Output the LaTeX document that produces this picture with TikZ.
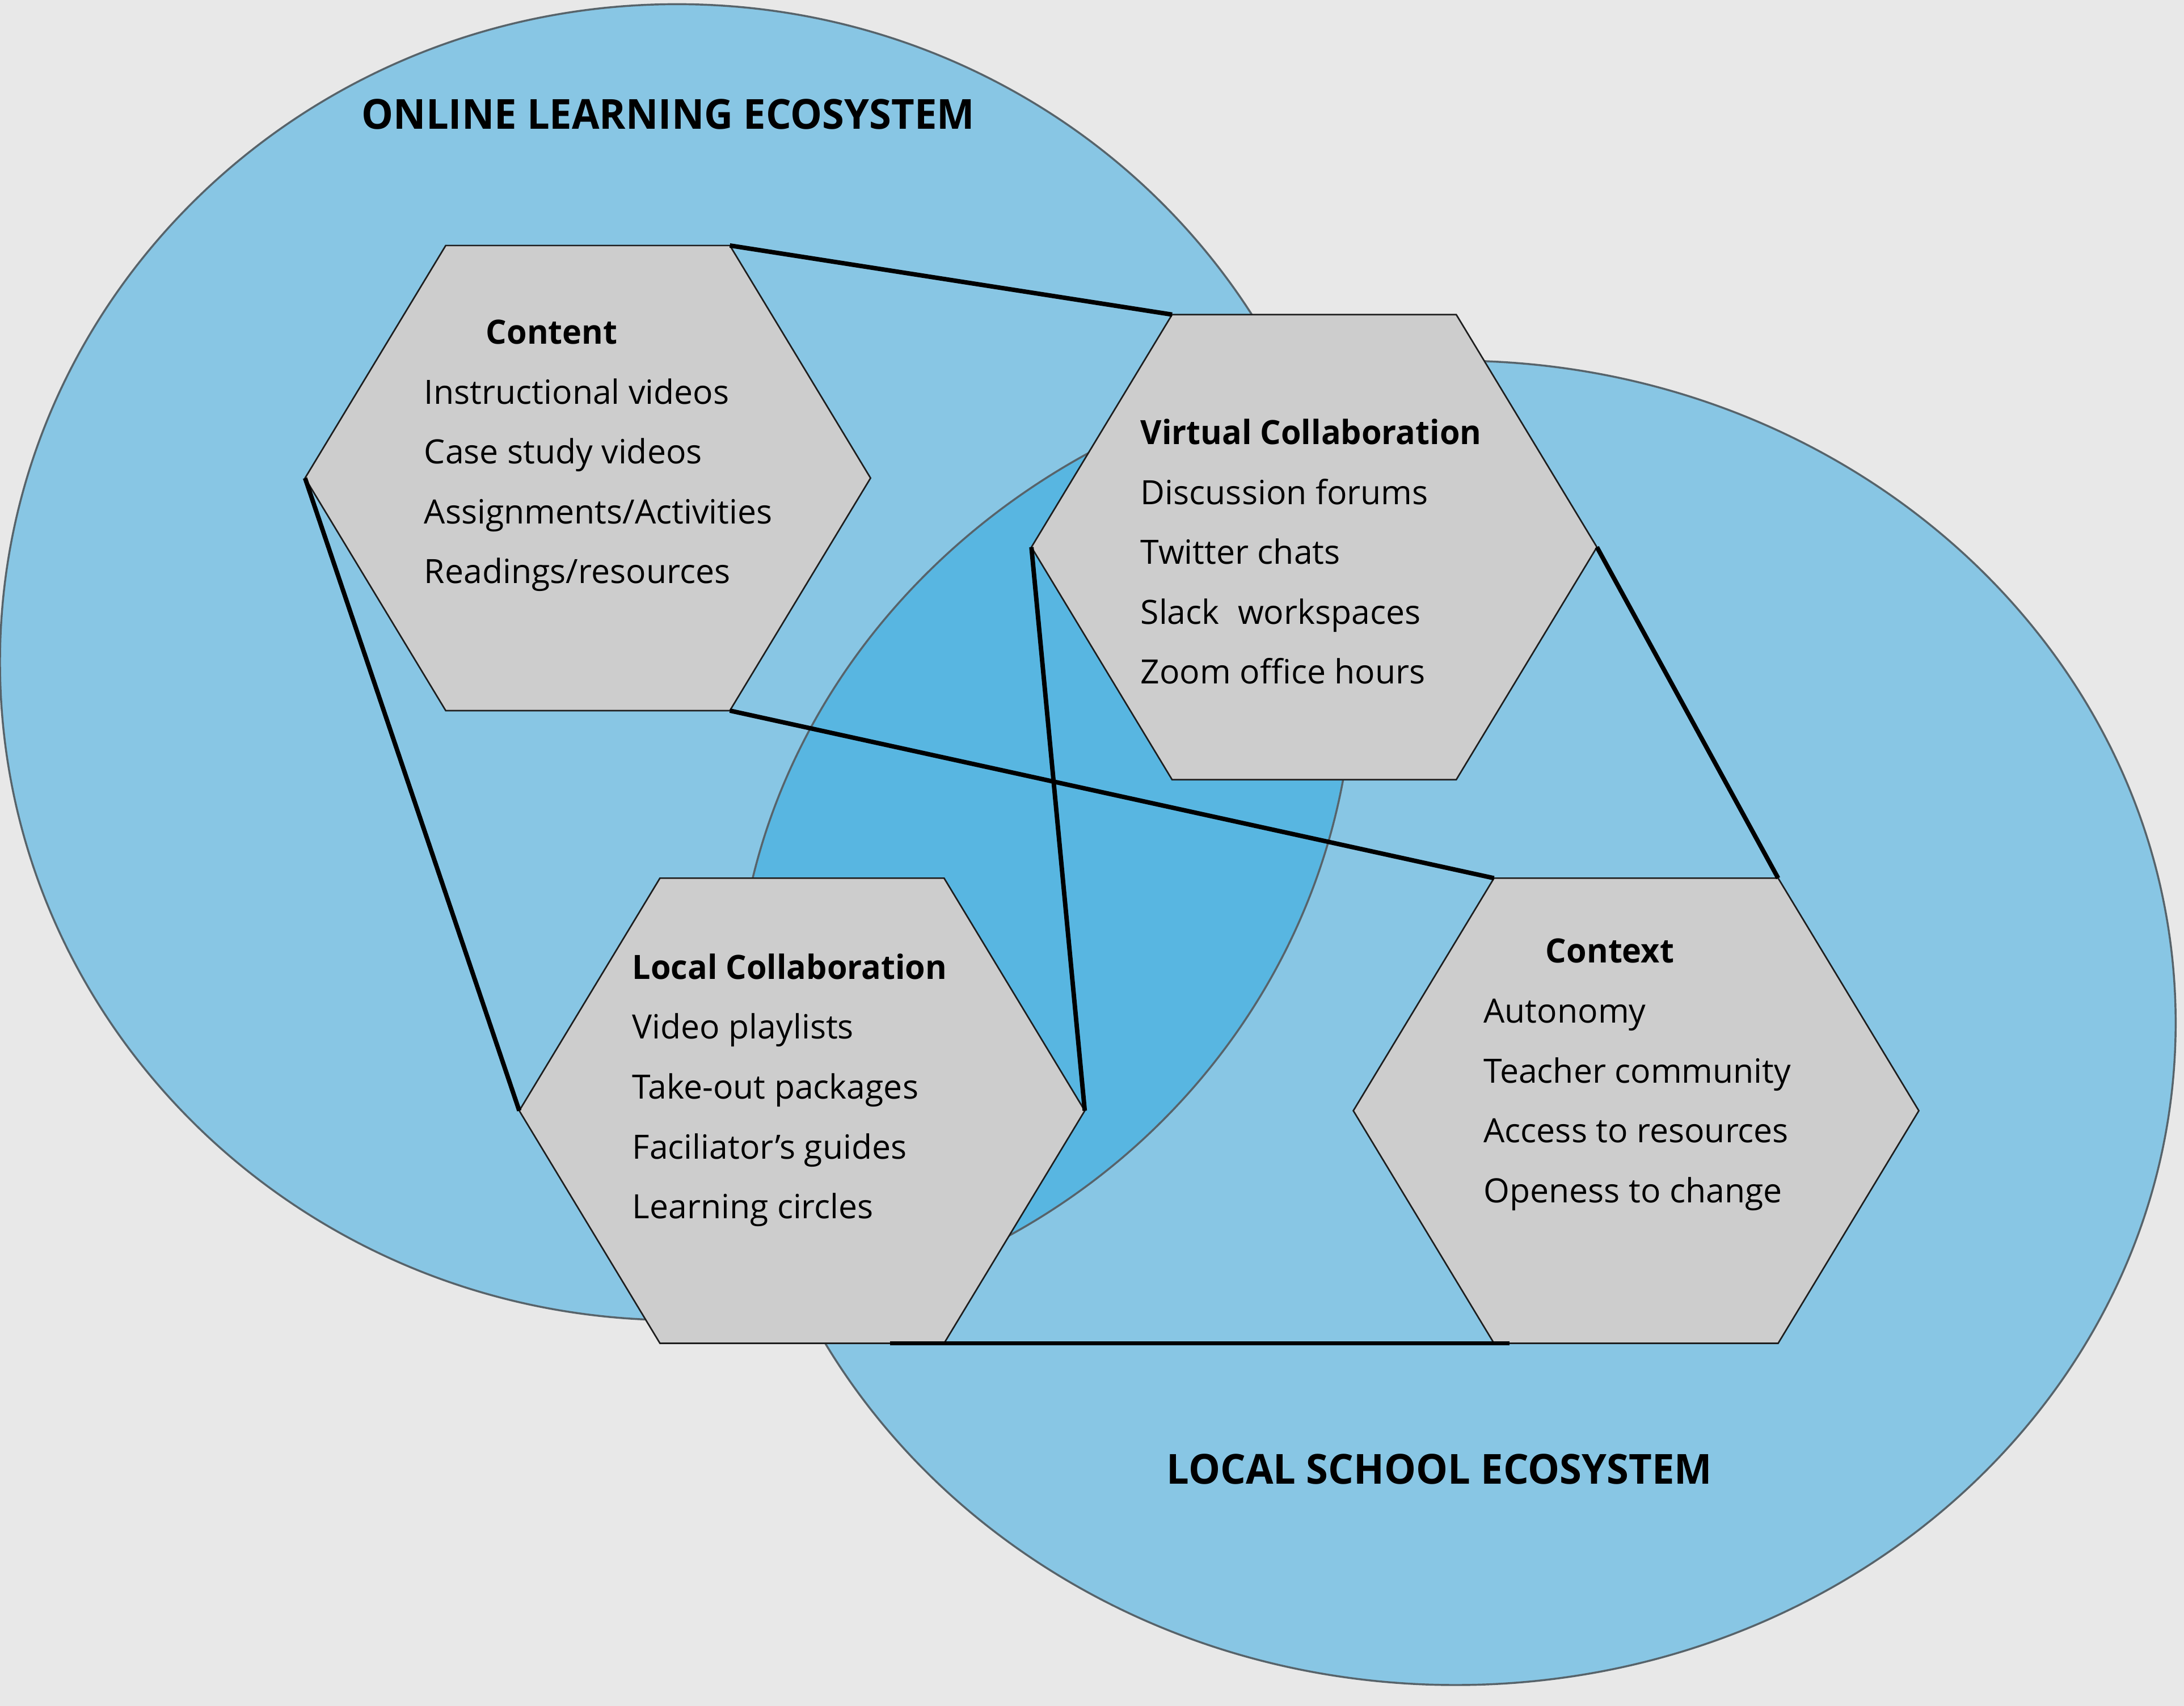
\documentclass[tikz,border=0pt]{standalone}
\usepackage{fontspec}
\setmainfont{Open Sans}
\usetikzlibrary{calc}
\definecolor{bgcol}{HTML}{E8E8E8}
\definecolor{circcol}{HTML}{88C6E4}
\definecolor{lenscol}{HTML}{58B6E1}
\definecolor{hexcol}{HTML}{CDCDCD}
\definecolor{circline}{HTML}{57636A}
\definecolor{hexline}{HTML}{1E1E1E}
\newcommand\mkhex[3]{%
  \coordinate (#1-l)  at (#2-203,#3);
  \coordinate (#1-tl) at (#2-102,#3-167);
  \coordinate (#1-tr) at (#2+102,#3-167);
  \coordinate (#1-r)  at (#2+203,#3);
  \coordinate (#1-br) at (#2+102,#3+167);
  \coordinate (#1-bl) at (#2-102,#3+167);
  \path[hexshape] (#1-l) -- (#1-tl) -- (#1-tr) -- (#1-r) -- (#1-br) -- (#1-bl) -- cycle;
}
\newcommand\ecotext[1]{\scalebox{0.966}[1]{#1}}
\newcommand\headtext[1]{\scalebox{0.976}[1]{#1}}
\begin{document}
\begin{tikzpicture}[x=1pt,y=-1pt,
  hexshape/.style={fill=hexcol,draw=hexline,line width=1.1pt,line join=miter},
  circedge/.style={draw=circline,line width=1.4pt},
  link/.style={draw=black,line width=3.2pt},
  item/.style={anchor=base west,inner sep=0pt,font=\fontsize{24}{28}\selectfont},
  head/.style={item,font=\fontsize{24}{28}\selectfont\bfseries},
  eco/.style={anchor=base west,inner sep=0pt,font=\fontsize{29.7}{34}\selectfont\bfseries}]
\useasboundingbox (0,0) rectangle (1568,1225);
\fill[bgcol] (0,0) rectangle (1568,1225);
% ecosystems
\fill[circcol] (486,475.5) ellipse [x radius=486, y radius=472.5];
\fill[circcol] (1045,734.5) ellipse [x radius=517, y radius=475.5];
\begin{scope}
  \clip (486,475.5) ellipse [x radius=486, y radius=472.5];
  \fill[lenscol] (1045,734.5) ellipse [x radius=517, y radius=475.5];
\end{scope}
\path[circedge] (486,475.5) ellipse [x radius=486, y radius=472.5];
\path[circedge] (1045,734.5) ellipse [x radius=517, y radius=475.5];
\node[eco] (online) at (259.5,92.6) {\ecotext{ONLINE LEARNING ECOSYSTEM}};
\node[eco] (local) at (837.5,1065.5) {\ecotext{LOCAL SCHOOL ECOSYSTEM}};
% hexagons
\mkhex{cn}{422}{343.3}
\mkhex{vc}{943.5}{392.9}
\mkhex{lc}{575.8}{797.6}
\mkhex{cx}{1174.6}{797.6}
% connectors
\coordinate (bot-a) at ($(lc-br)+(-39,0)$);
\coordinate (bot-b) at ($(cx-bl)+(11,0)$);
\path[link] (cn-tr) -- (vc-tl);
\path[link] (cn-l) -- (lc-l);
\path[link] (cn-br) -- (cx-tl);
\path[link] (vc-l) -- (lc-r);
\path[link] (vc-r) -- (cx-tr);
\path[link] (bot-a) -- (bot-b);
% texts
\node[head] (cn-h) at (348.8,247.1) {\headtext{Content}};
\foreach \t [count=\i] in {Instructional videos,Case study videos,Assignments/Activities,Readings/resources}
  \node[item] (cn-\i) at (304.4,{290+43*(\i-1)}) {\t};
\node[head] (vc-h) at (818.7,319.3) {\headtext{Virtual Collaboration}};
\foreach \t [count=\i] in {Discussion forums,Twitter chats,Slack\hspace{0.55em}workspaces,Zoom office hours}
  \node[item] (vc-\i) at (818.7,{362.1+43*(\i-1)}) {\t};
\node[head] (lc-h) at (453.8,703.2) {\headtext{Local Collaboration}};
\foreach \t [count=\i] in {Video playlists,Take-out packages,Faciliator’s guides,Learning circles}
  \node[item] (lc-\i) at (453.8,{746.1+43*(\i-1)}) {\t};
\node[head] (cx-h) at (1109.6,691.5) {\headtext{Context}};
\foreach \t [count=\i] in {Autonomy,Teacher community,Access to resources,Openess to change}
  \node[item] (cx-\i) at (1065,{734.5+43*(\i-1)}) {\t};
\end{tikzpicture}
\end{document}
